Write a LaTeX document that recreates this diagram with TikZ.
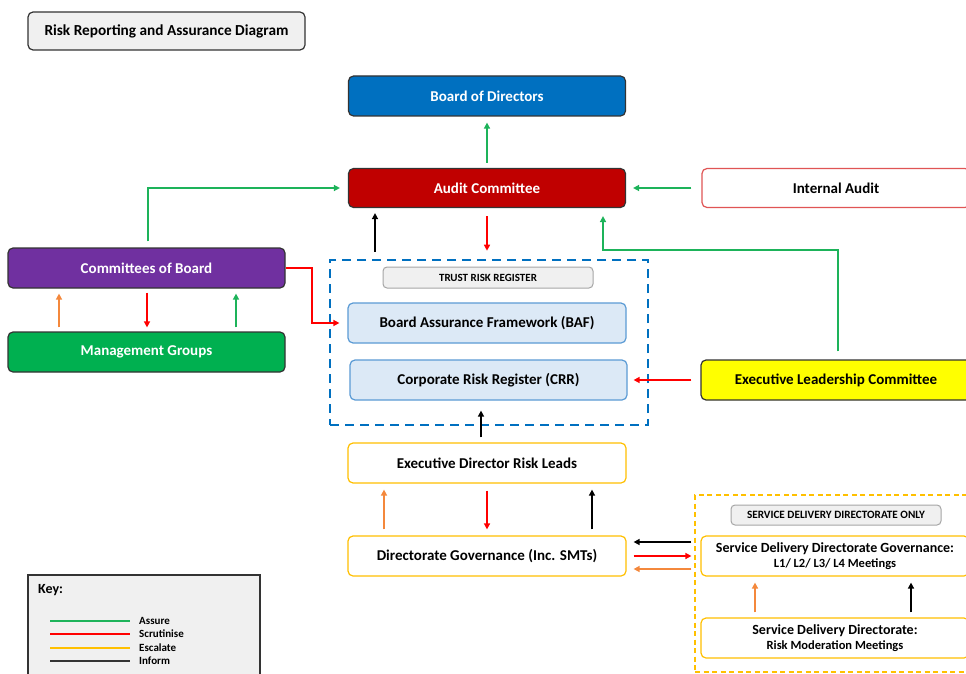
\documentclass[tikz,border=0pt]{standalone}
\usepackage{fontspec}
\setmainfont{Carlito}
\usetikzlibrary{arrows.meta}
\definecolor{cblue}{HTML}{0070C0}
\definecolor{cred}{HTML}{C00000}
\definecolor{cpurple}{HTML}{7030A0}
\definecolor{cgreen}{HTML}{00B050}
\definecolor{agreen}{HTML}{1DB35A}
\definecolor{ared}{HTML}{FF0000}
\definecolor{aorange}{HTML}{F4883C}
\definecolor{cyellow}{HTML}{FFFF00}
\definecolor{cgold}{HTML}{FFC000}
\definecolor{lblue}{HTML}{DCE9F6}
\definecolor{bblue}{HTML}{5B9BD5}
\definecolor{lgray}{HTML}{F0F0F0}
\definecolor{bdark}{HTML}{333333}
\definecolor{iared}{HTML}{E05555}
\tikzset{
  box/.style={draw=bdark, rounded corners=5pt, line width=1.2pt, minimum width=277pt, minimum height=40pt, font=\bfseries\fontsize{15}{17}\selectfont, align=center, inner sep=0pt},
  whitetext/.style={text=white},
  tag/.style={draw=gray!70, fill=lgray, rounded corners=4pt, line width=1pt, minimum width=210pt, minimum height=21pt, font=\bfseries\fontsize{11}{12}\selectfont, inner sep=0pt},
  arr/.style={line width=1.9pt, -{Triangle[length=6pt,width=6pt]}},
  assure/.style={arr, draw=agreen},
  scrut/.style={arr, draw=ared},
  escal/.style={arr, draw=aorange},
  inform/.style={arr, draw=black},
}
\begin{document}
\begin{tikzpicture}[x=1pt,y=-1pt]
\clip (0,0) rectangle (966,674);
\fill[white] (0,0) rectangle (966,674);

% title
\node[box, draw=bdark, fill=lgray, minimum height=38pt, font=\bfseries\fontsize{15.3}{17}\selectfont] (title) at (166.5,31) {Risk Reporting and Assurance Diagram};

% top nodes
\node[box, fill=cblue, whitetext] (board) at (487,96) {Board of Directors};
\node[box, fill=cred, whitetext, minimum height=39pt] (audit) at (487,188) {Audit Committee};
\node[box, draw=iared, fill=white, minimum width=268pt, minimum height=39pt] (ia) at (836,188) {Internal Audit};

% left
\node[box, fill=cpurple, whitetext] (comm) at (146.5,268) {Committees of Board};
\node[box, fill=cgreen, whitetext] (mgmt) at (146.5,352) {Management Groups};

% trust risk register
\node[draw=cblue, dash pattern=on 9pt off 6pt, line width=2.6pt, minimum width=318pt, minimum height=165pt, inner sep=0pt] (trr) at (489,342.5) {};
\node[tag] (trrlabel) at (488,277.5) {TRUST RISK REGISTER};
\node[box, draw=bblue, fill=lblue, minimum width=278pt] (baf) at (487,323) {Board Assurance Framework (BAF)};
\node[box, draw=bblue, fill=lblue] (crr) at (488.5,380) {Corporate Risk Register (CRR)};
\node[box, fill=cyellow, draw=bdark, minimum width=270pt] (elc) at (836,380) {Executive Leadership Committee};

% directorate
\node[box, draw=cgold, fill=white, minimum width=278pt] (edr) at (487,463) {Executive Director Risk Leads};
\node[box, draw=cgold, fill=white, minimum width=278pt] (dgov) at (487,556) {Directorate Governance (Inc. SMTs)};

% SDD
\node[draw=cgold, dash pattern=on 5pt off 3.5pt, line width=1.4pt, minimum width=277pt, minimum height=177pt, inner sep=0pt] (sdd) at (833.5,583.5) {};
\node[tag, minimum height=20pt, font=\bfseries\fontsize{11.2}{12}\selectfont] (sddlabel) at (836,515) {SERVICE DELIVERY DIRECTORATE ONLY};
\node[box, draw=cgold, fill=white, minimum width=268pt, font=\bfseries\fontsize{14}{15}\selectfont] (sddgov) at (835,556) {Service Delivery Directorate Governance:\\[0pt]{\fontsize{12.5}{14}\selectfont L1/ L2/ L3/ L4 Meetings}};
\node[box, draw=cgold, fill=white, minimum width=268pt, font=\bfseries\fontsize{14}{15}\selectfont] (sddrisk) at (835,638) {Service Delivery Directorate:\\[0pt]{\fontsize{12.5}{14}\selectfont Risk Moderation Meetings}};

% key
\node[draw=bdark, fill=lgray, line width=1.8pt, minimum width=232pt, minimum height=115pt, inner sep=0pt] (key) at (144,632.5) {};
\node[anchor=west, font=\bfseries\fontsize{14}{15}\selectfont, inner sep=0pt] (keytitle) at (38,590) {Key:};
\coordinate (k1) at (50,621); \coordinate (k1e) at (130,621);
\coordinate (k2) at (50,634); \coordinate (k2e) at (130,634);
\coordinate (k3) at (50,648); \coordinate (k3e) at (130,648);
\coordinate (k4) at (50,661); \coordinate (k4e) at (130,661);
\draw[agreen, line width=1.6pt] (k1) -- (k1e);
\draw[ared, line width=1.6pt] (k2) -- (k2e);
\draw[cgold, line width=1.6pt] (k3) -- (k3e);
\draw[bdark, line width=1.6pt] (k4) -- (k4e);
\tikzset{keylab/.style={anchor=west, font=\bfseries\fontsize{11}{12}\selectfont, inner sep=0pt}}
\node[keylab] (l1) at (139,621) {Assure};
\node[keylab] (l2) at (139,634) {Scrutinise};
\node[keylab] (l3) at (139,648) {Escalate};
\node[keylab] (l4) at (139,661) {Inform};

% arrows top
\draw[assure, shorten <=5pt, shorten >=6pt] (audit.north) -- (board.south);
\draw[assure, shorten <=6pt, shorten >=8pt] (comm.north -| 148,0) |- (audit.west);
\draw[assure, shorten <=10pt, shorten >=7pt] (ia.west) -- (audit.east);
\draw[inform, shorten <=7pt, shorten >=5pt] (trr.north -| 375,0) -- (audit.south -| 375,0);
\draw[scrut, shorten <=8pt, shorten >=8pt] (audit.south) -- (trr.north -| audit.south);
\coordinate (elcbend) at (838,250);
\draw[assure, shorten <=8pt, shorten >=8pt] (elc.north -| elcbend) -- (elcbend) -| (audit.south -| 603,0);

% left arrows
\draw[escal, shorten <=4pt, shorten >=5pt] (mgmt.north -| 59,0) -- (comm.south -| 59,0);
\draw[scrut, shorten <=4pt, shorten >=4pt] (comm.south -| 147,0) -- (mgmt.north -| 147,0);
\draw[assure, shorten <=4pt, shorten >=5pt] (mgmt.north -| 236,0) -- (comm.south -| 236,0);
\coordinate (cbend) at (312,268);
\draw[scrut, shorten >=8pt] (comm.east) -- (cbend) |- (baf.west);

% right arrows
\draw[scrut, shorten <=9pt, shorten >=6pt] (elc.west) -- (crr.east);
\draw[inform, shorten <=5pt, shorten >=10pt] (edr.north -| 481,0) -- (crr.south -| 481,0);

% directorate arrows
\draw[escal, shorten <=6pt, shorten >=6pt] (dgov.north -| 384,0) -- (edr.south -| 384,0);
\draw[scrut, shorten <=7pt, shorten >=6pt] (edr.south) -- (dgov.north);
\draw[inform, shorten <=6pt, shorten >=6pt] (dgov.north -| 592,0) -- (edr.south -| 592,0);

% sdd <-> dgov
\draw[inform, shorten <=9pt, shorten >=7pt] (sddgov.west |- 0,542) -- (dgov.east |- 0,542);
\draw[scrut, shorten <=7pt, shorten >=9pt] (dgov.east |- 0,556) -- (sddgov.west |- 0,556);
\draw[escal, shorten <=9pt, shorten >=7pt] (sddgov.west |- 0,569) -- (dgov.east |- 0,569);
\draw[escal, shorten <=5pt, shorten >=6pt] (sddrisk.north -| 755,0) -- (sddgov.south -| 755,0);
\draw[inform, shorten <=5pt, shorten >=6pt] (sddrisk.north -| 911,0) -- (sddgov.south -| 911,0);
\end{tikzpicture}
\end{document}
